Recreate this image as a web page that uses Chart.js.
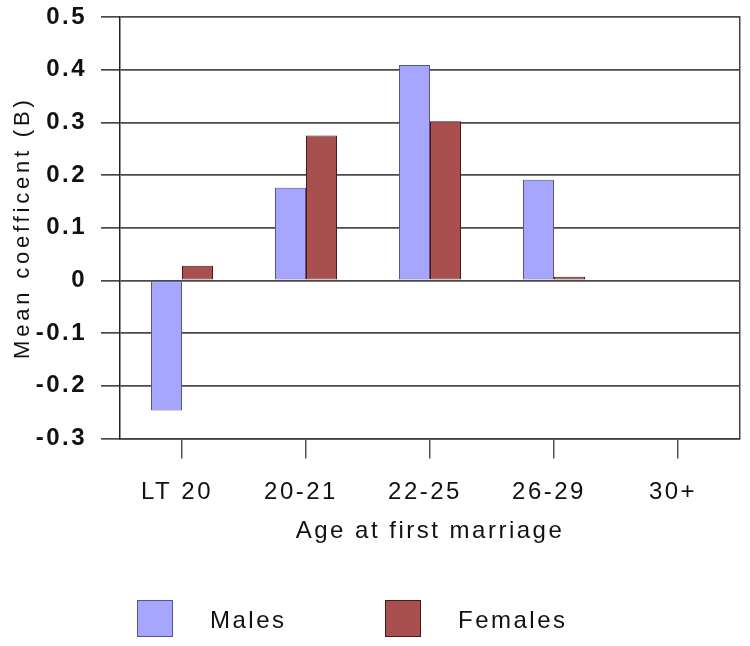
<!DOCTYPE html>
<html>
<head>
<meta charset="utf-8">
<script src="https://cdn.jsdelivr.net/npm/chart.js@4.4.1/dist/chart.umd.min.js"></script>
<style>
  html, body { margin:0; padding:0; background:#fff; }
  #wrap { position:relative; width:750px; height:646px; }
  #legend { position:absolute; left:0; top:600px; width:750px; height:40px;
    font-family:"Liberation Sans", Arial, sans-serif; font-size:24px; letter-spacing:2.5px; color:#111; }
  .sw { position:absolute; top:0; width:36px; height:37px; box-sizing:border-box; }
  .lt { position:absolute; top:6px; line-height:28px; }
</style>
</head>
<body>
<div id="wrap">
  <canvas id="chart" width="750" height="646"></canvas>
  <div id="legend"></div>
</div>
<script>
// data
const categories = ['LT 20', '20-21', '22-25', '26-29', '30+'];
const males = [-0.247, 0.176, 0.409, 0.191, null];
const females = [0.028, 0.275, 0.302, 0.007, null];
const yMin = -0.3, yMax = 0.5, yStep = 0.1;

const maleColor = '#a6a6ff', maleBorder = '#55558f';
const femaleColor = '#a85050', femaleBorder = '#4a1a1a';
const fontFamily = '"Liberation Sans", Arial, sans-serif';

// wide letter spacing like the original figure (canvas resize resets ctx state, so set it each pass)
const spacing = {
  id: 'spacing',
  beforeUpdate(chart){ chart.ctx.letterSpacing = '2.5px'; },
  beforeDraw(chart){
    chart.ctx.letterSpacing = '2.5px';
    // the y title is spaced even wider
    const y = chart.scales.y;
    if (y && !y._wideTitle) {
      const orig = y.drawTitle;
      y.drawTitle = function(){
        const c = this.ctx;
        c.save(); c.letterSpacing = '3.8px';
        orig.call(this);
        c.restore();
      };
      y._wideTitle = true;
    }
  }
};

const ctx = document.getElementById('chart').getContext('2d');
const chart = new Chart(ctx, {
  type: 'bar',
  data: {
    labels: categories,
    datasets: [
      {label:'Males', data:males, backgroundColor:maleColor, borderColor:maleBorder, borderWidth:1, borderSkipped:false},
      {label:'Females', data:females, backgroundColor:femaleColor, borderColor:femaleBorder, borderWidth:1, borderSkipped:false}
    ]
  },
  plugins: [spacing],
  options: {
    responsive:false, animation:false,
    layout:{padding:{top:17, right:10, bottom:100, left:0}},
    datasets:{bar:{categoryPercentage:0.5, barPercentage:1}},
    plugins:{legend:{display:false}, tooltip:{enabled:false}},
    scales:{
      x:{
        offset:true,
        grid:{offset:false, drawOnChartArea:false, drawTicks:true, tickLength:20, color:'#555', lineWidth:1.5},
        border:{display:true, color:'#444', width:1.5},
        ticks:{padding:20, labelOffset:-5, color:'#111', font:{family:fontFamily, size:24}},
        title:{display:true, text:'Age at first marriage', color:'#111', padding:{top:-10, bottom:0},
          font:{family:fontFamily, size:24, weight:'500'}}
      },
      y:{
        min:yMin, max:yMax,
        afterFit(scale){ scale.width = 120; scale.paddingTop = 0; scale.paddingBottom = 0; },
        ticks:{stepSize:yStep, padding:14, color:'#111',
          font:{family:fontFamily, size:24, weight:'bold'},
          callback(v){ const r = Math.round(v*10)/10; return r === 0 ? '0' : r.toFixed(1); }},
        grid:{color:'#4a4a4a', lineWidth:1.7, tickLength:19},
        border:{display:true, color:'#222', width:1.5},
        title:{display:true, text:'Mean coefficent (B)', color:'#111', padding:{top:10, bottom:0},
          font:{family:fontFamily, size:22}}
      },
      y2:{
        position:'right', min:yMin, max:yMax,
        afterFit(scale){ scale.paddingTop = 0; scale.paddingBottom = 0; },
        ticks:{display:false}, grid:{display:false, drawTicks:false},
        border:{display:true, color:'#444', width:1.5}
      }
    }
  }
});

// legend as html below the chart
const legend = document.getElementById('legend');
[[ 'Males', maleColor, maleBorder, 137, 210 ], [ 'Females', femaleColor, femaleBorder, 385, 458 ]].forEach(([name, fill, border, bx, tx]) => {
  const sw = document.createElement('div');
  sw.className = 'sw';
  sw.style.left = bx + 'px';
  sw.style.background = fill;
  sw.style.border = '1px solid ' + border;
  legend.appendChild(sw);
  const t = document.createElement('div');
  t.className = 'lt';
  t.style.left = tx + 'px';
  t.textContent = name;
  legend.appendChild(t);
});
</script>
</body>
</html>
